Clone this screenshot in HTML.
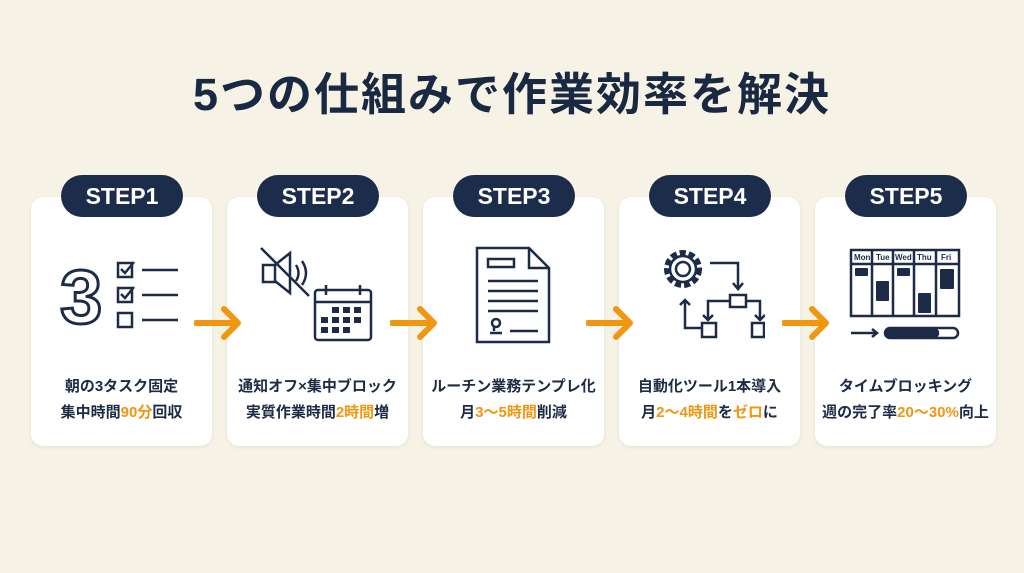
<!DOCTYPE html>
<html><head><meta charset="utf-8"><style>
body{margin:0;width:1024px;height:573px;background:#f6f2e6;font-family:"Liberation Sans","Noto Sans CJK JP",sans-serif;position:relative;overflow:hidden;color:#1d2b45}
.title{position:absolute;top:58px;left:0;width:1024px;text-align:center;font-size:45px;font-weight:bold;letter-spacing:2px;color:#1a2942}
.card{position:absolute;top:197px;width:181px;height:249px;background:#fff;border-radius:12px;box-shadow:0 1px 4px rgba(0,0,0,.08)}
.pill{position:absolute;top:175px;width:122px;height:42px;background:#1c2d4b;border-radius:21px;color:#fff;font-weight:bold;font-size:23px;text-align:center;line-height:42px}
.txt{position:absolute;top:374px;width:181px;text-align:center;font-size:15px;font-weight:bold;line-height:26px}
.o{color:#f0960f}
svg.ic{position:absolute}
.arr{position:absolute;top:305px}
</style></head><body>
<div class="title">5つの仕組みで作業効率を解決</div>

<div class="card" style="left:31px"></div>
<div class="card" style="left:227px"></div>
<div class="card" style="left:423px"></div>
<div class="card" style="left:619px"></div>
<div class="card" style="left:815px"></div>

<div class="pill" style="left:61px">STEP1</div>
<div class="pill" style="left:257px">STEP2</div>
<div class="pill" style="left:453px">STEP3</div>
<div class="pill" style="left:649px">STEP4</div>
<div class="pill" style="left:845px">STEP5</div>

<div class="txt" style="left:31px">朝の3タスク固定<br>集中時間<span class="o">90分</span>回収</div>
<div class="txt" style="left:227px">通知オフ×集中ブロック<br>実質作業時間<span class="o">2時間</span>増</div>
<div class="txt" style="left:423px">ルーチン業務テンプレ化<br>月<span class="o">3〜5時間</span>削減</div>
<div class="txt" style="left:619px">自動化ツール1本導入<br>月<span class="o">2〜4時間</span>を<span class="o">ゼロ</span>に</div>
<div class="txt" style="left:815px">タイムブロッキング<br>週の完了率<span class="o">20〜30%</span>向上</div>

<svg class="arr" style="left:194px" width="50" height="36"><path d="M2 18H44M30 4L44 18L30 32" stroke="#f0960f" stroke-width="6" fill="none" stroke-linecap="round" stroke-linejoin="round"/></svg>
<svg class="arr" style="left:390px" width="50" height="36"><path d="M2 18H44M30 4L44 18L30 32" stroke="#f0960f" stroke-width="6" fill="none" stroke-linecap="round" stroke-linejoin="round"/></svg>
<svg class="arr" style="left:586px" width="50" height="36"><path d="M2 18H44M30 4L44 18L30 32" stroke="#f0960f" stroke-width="6" fill="none" stroke-linecap="round" stroke-linejoin="round"/></svg>
<svg class="arr" style="left:782px" width="50" height="36"><path d="M2 18H44M30 4L44 18L30 32" stroke="#f0960f" stroke-width="6" fill="none" stroke-linecap="round" stroke-linejoin="round"/></svg>

<svg class="ic" style="left:60px;top:255px" width="125" height="80" fill="none" stroke="#1c2b47" stroke-width="2.5">
<text x="0" y="68" font-size="76" font-weight="bold" font-family="Liberation Sans" fill="#fff" stroke="#1c2b47" stroke-width="3">3</text>
<rect x="58" y="8" width="14" height="14"/><path d="M61 14l4 4 9-11"/>
<rect x="58" y="33" width="14" height="14"/><path d="M61 39l4 4 9-11"/>
<rect x="58" y="58" width="14" height="14"/>
<path d="M82 15h36M82 40h36M82 65h36"/></svg>

<svg class="ic" style="left:258px;top:245px" width="120" height="100" fill="none" stroke="#1c2b47" stroke-width="2.5">
<rect x="5" y="20" width="12" height="17"/><path d="M17 20l15-12v40l-15-12"/><path d="M38 20q5 8 0 16M44 16q8 12 0 24"/><path d="M3 3l48 48"/>
<rect x="57" y="45" width="56" height="50" rx="3"/><path d="M57 57h56M68 40v10M102 40v10"/>
<g fill="#1c2b47" stroke="none"><rect x="74" y="62" width="7" height="6"/><rect x="85" y="62" width="7" height="6"/><rect x="96" y="62" width="7" height="6"/><rect x="63" y="72" width="7" height="6"/><rect x="74" y="72" width="7" height="6"/><rect x="85" y="72" width="7" height="6"/><rect x="96" y="72" width="7" height="6"/><rect x="63" y="82" width="7" height="6"/><rect x="74" y="82" width="7" height="6"/><rect x="85" y="82" width="7" height="6"/></g></svg>

<svg class="ic" style="left:474px;top:245px" width="80" height="100" fill="none" stroke="#1c2b47" stroke-width="2.5">
<path d="M3 3h52l20 20v74H3z"/><path d="M55 3v20h20"/>
<rect x="14" y="14" width="26" height="8"/><path d="M14 36h50M14 46h50M14 56h50M14 66h50"/>
<circle cx="22" cy="78" r="4"/><path d="M16 88h12M20 82v4M36 86h28"/></svg>

<svg class="ic" style="left:660px;top:245px" width="105" height="100" fill="none" stroke="#1c2b47" stroke-width="2.5">
<circle cx="23" cy="24" r="16" stroke-dasharray="6 3" stroke-width="6"/><circle cx="23" cy="24" r="13"/><circle cx="23" cy="24" r="7"/>
<path d="M50 18h28v26M73 38l5 6 5-6"/>
<path d="M25 55v28h18M20 60l5-5 5 5"/>
<rect x="70" y="50" width="16" height="12"/><path d="M70 56h-22v18M86 56h14v18M43 70l5 5 5-5M95 70l5 5 5-5"/>
<rect x="42" y="78" width="14" height="14"/><rect x="92" y="78" width="12" height="14"/></svg>

<svg class="ic" style="left:848px;top:247px" width="115" height="95" fill="none" stroke="#1c2b47" stroke-width="2.5">
<rect x="3" y="3" width="108" height="66"/><path d="M3 17h108M24 3v66M45 3v66M66 3v66M88 3v66"/>
<g font-size="8" font-weight="bold" fill="#1c2b47" stroke="none" font-family="Liberation Sans"><text x="6" y="13">Mon</text><text x="28" y="13">Tue</text><text x="47" y="13">Wed</text><text x="69" y="13">Thu</text><text x="93" y="13">Fri</text></g>
<g fill="#1c2b47" stroke="none"><rect x="7" y="21" width="13" height="8" rx="1"/><rect x="28" y="34" width="13" height="20" rx="1"/><rect x="49" y="21" width="13" height="8" rx="1"/><rect x="70" y="46" width="13" height="20" rx="1"/><rect x="92" y="22" width="14" height="20" rx="1"/></g>
<path d="M3 86h26M24 82l5 4-5 4"/><rect x="37" y="81" width="73" height="10" rx="5"/><rect x="38" y="82" width="52" height="8" rx="4" fill="#1c2b47"/></svg>
</body></html>
